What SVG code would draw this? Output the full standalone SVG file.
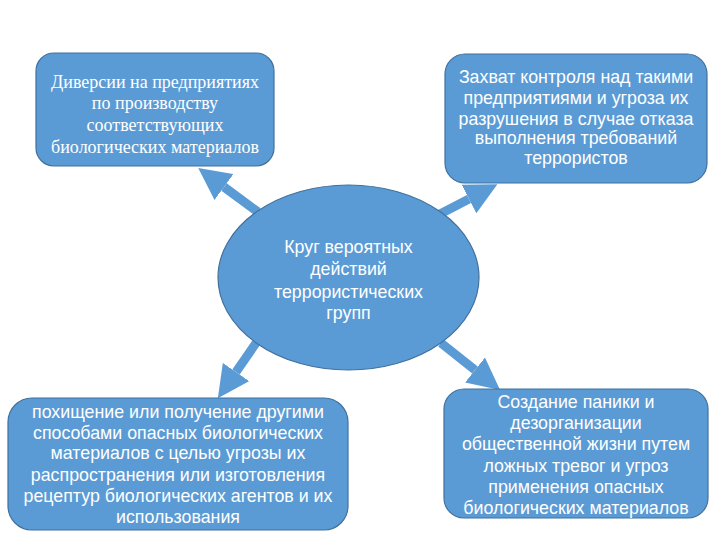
<svg xmlns="http://www.w3.org/2000/svg" width="720" height="540" viewBox="0 0 720 540">
<style>
.node{fill:#5B9BD5;stroke:#41719C;stroke-width:1.2}
.t{fill:#fff;font-family:"Liberation Sans",Arial,sans-serif;font-size:17.8px;text-anchor:middle}
.s{fill:#fff;font-family:"Liberation Serif","Times New Roman",serif;font-size:18px;text-anchor:middle}
.c{stroke:#5B9BD5;stroke-width:9;fill:none;marker-end:url(#ah)}
</style>
<defs>
<marker id="ah" markerUnits="userSpaceOnUse" markerWidth="32" markerHeight="32" viewBox="0 0 32 32" refX="0" refY="16" orient="auto">
<path d="M0,0 L32,16 L0,32 z" fill="#5B9BD5"/>
</marker>
</defs>
<rect width="720" height="540" fill="#fff"/>
<g id="connectors">
<line class="c" x1="258" y1="212" x2="224" y2="187"/>
<line class="c" x1="440" y1="214" x2="469" y2="199"/>
<line class="c" x1="256" y1="343" x2="236" y2="372"/>
<line class="c" x1="441" y1="343" x2="475" y2="370"/>
</g>
<g id="center">
<ellipse class="node" cx="348.5" cy="277.5" rx="130.5" ry="92.5"/>
<text class="t" x="348.5" y="253">Круг вероятных</text>
<text class="t" x="348.5" y="275">действий</text>
<text class="t" x="348.5" y="298">террористических</text>
<text class="t" x="348.5" y="319">групп</text>
</g>
<g id="n1">
<rect class="node" x="36" y="53" width="238" height="113" rx="18"/>
<text class="s" x="155" y="88">Диверсии на предприятиях</text>
<text class="s" x="155" y="109">по производству</text>
<text class="s" x="155" y="131">соответствующих</text>
<text class="s" x="155" y="153">биологических материалов</text>
</g>
<g id="n2">
<rect class="node" x="445" y="54" width="262" height="129" rx="20"/>
<text class="t" x="576" y="83">Захват контроля над такими</text>
<text class="t" x="576" y="104">предприятиями и угроза их</text>
<text class="t" x="576" y="125">разрушения в случае отказа</text>
<text class="t" x="576" y="144">выполнения требований</text>
<text class="t" x="576" y="164">террористов</text>
</g>
<g id="n3">
<rect class="node" x="8" y="398" width="340" height="132" rx="24"/>
<text class="t" x="178" y="418">похищение или получение другими</text>
<text class="t" x="178" y="439">способами опасных биологических</text>
<text class="t" x="178" y="459">материалов с целью угрозы их</text>
<text class="t" x="178" y="481">распространения или изготовления</text>
<text class="t" x="178" y="502">рецептур биологических агентов и их</text>
<text class="t" x="178" y="523">использования</text>
</g>
<g id="n4">
<rect class="node" x="444" y="389" width="264" height="129" rx="20"/>
<text class="t" x="576" y="408">Создание паники и</text>
<text class="t" x="576" y="429">дезорганизации</text>
<text class="t" x="576" y="450">общественной жизни путем</text>
<text class="t" x="576" y="472">ложных тревог и угроз</text>
<text class="t" x="576" y="493">применения опасных</text>
<text class="t" x="576" y="514">биологических материалов</text>
</g>
</svg>
